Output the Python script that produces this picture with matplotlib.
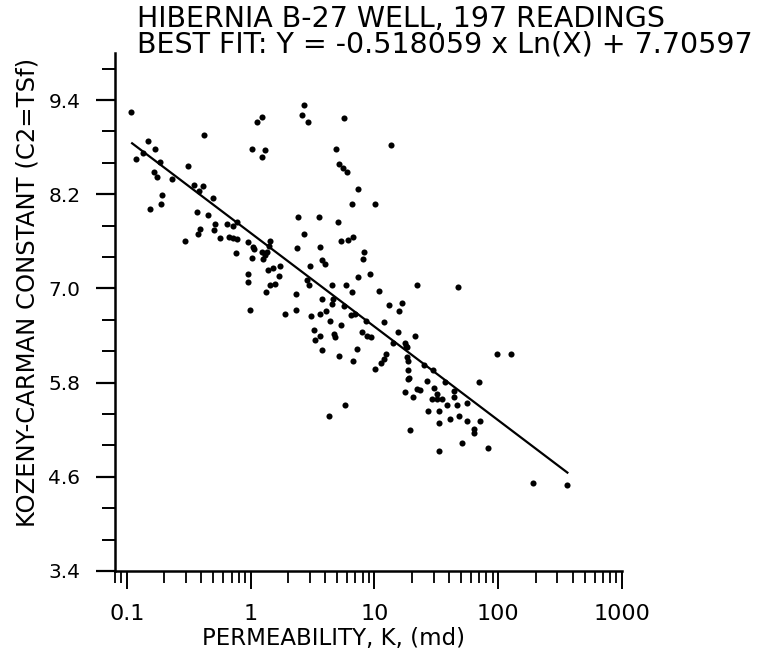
import numpy as np
import matplotlib
matplotlib.use("Agg")
import matplotlib.pyplot as plt
from matplotlib.ticker import FixedLocator, NullFormatter, LogLocator

# ---- data ----
perm_md = [
    0.107, 0.1175, 0.134, 0.1486, 0.1694, 0.185, 0.166, 0.176, 0.191, 0.187,
    0.1535, 0.232, 0.313, 0.419, 0.348, 0.409, 0.384, 0.493, 0.370, 0.452,
    0.294, 0.389, 0.375, 0.514, 0.508, 0.565, 0.640, 0.715, 0.770, 0.668,
    0.723, 0.779, 0.760, 0.946, 1.05, 1.06, 1.03, 1.227, 1.35, 1.264,
    1.43, 1.41, 0.946, 0.946, 1.388, 1.52, 1.726, 1.70, 1.43, 1.57,
    1.33, 0.987, 1.893, 2.32, 2.31, 2.355, 2.40, 1.02, 1.305, 1.234,
    1.118, 1.234, 1.305,
    2.70, 2.61, 2.89, 5.68, 13.55, 4.89, 5.20, 5.61, 5.97, 7.33,
    6.63, 10.17, 3.57, 5.11, 2.71, 3.63, 5.34, 6.15, 6.68, 8.24,
    8.04, 3.75, 3.96, 3.02, 9.21, 7.33, 2.87, 2.94, 4.57, 5.89,
    6.55, 10.9, 22.0, 47.7, 3.75, 4.65, 4.57, 5.71, 3.06, 3.63,
    4.06, 6.43, 6.97, 13.1, 16.6, 15.8, 4.38, 5.34, 8.55, 12.0,
    3.27, 3.63, 3.31, 4.71, 4.80, 7.89, 8.66, 9.33, 15.6, 21.3,
    14.2, 17.7, 18.2, 18.0, 3.77, 7.27, 5.17, 6.75, 12.3, 12.0,
    11.2, 10.1, 18.2, 18.8, 24.9, 29.9, 18.8, 18.5, 19.05, 26.5,
    37.2, 43.5, 30.5, 31.9, 22.0, 23.4, 17.7, 20.6, 29.1, 31.9,
    35.0, 43.5, 5.79, 4.32, 27.3, 33.3, 38.8, 46.3, 33.3, 40.8,
    48.0,
    98.6, 126.5, 70.5, 55.7, 71.8, 63.9, 63.9, 82.4, 50.8, 32.9,
    19.4, 55.7, 192.6, 362.0,
]
kc_const = [
    9.25, 8.645, 8.73, 8.88, 8.78, 8.61, 8.48, 8.42, 8.19, 8.08,
    8.01, 8.40, 8.56, 8.96, 8.32, 8.31, 8.24, 8.15, 7.98, 7.93,
    7.61, 7.76, 7.69, 7.82, 7.74, 7.64, 7.82, 7.80, 7.85, 7.66,
    7.64, 7.63, 7.45, 7.59, 7.53, 7.50, 7.39, 7.47, 7.46, 7.38,
    7.61, 7.54, 7.18, 7.08, 7.23, 7.26, 7.29, 7.16, 7.05, 7.06,
    6.96, 6.73, 6.67, 6.72, 6.93, 7.51, 7.91, 8.78, 8.77, 8.67,
    9.12, 9.19, 7.43,
    9.34, 9.21, 9.12, 9.17, 8.83, 8.78, 8.59, 8.54, 8.49, 8.27,
    8.07, 8.08, 7.91, 7.85, 7.69, 7.53, 7.60, 7.62, 7.65, 7.47,
    7.37, 7.36, 7.31, 7.28, 7.18, 7.15, 7.11, 7.04, 7.05, 7.05,
    6.95, 6.97, 7.04, 7.02, 6.86, 6.87, 6.80, 6.78, 6.65, 6.68,
    6.71, 6.66, 6.68, 6.79, 6.82, 6.71, 6.58, 6.53, 6.58, 6.57,
    6.47, 6.40, 6.34, 6.42, 6.38, 6.44, 6.40, 6.38, 6.44, 6.40,
    6.30, 6.30, 6.25, 6.27, 6.21, 6.23, 6.14, 6.08, 6.16, 6.10,
    6.05, 5.97, 6.13, 6.07, 6.02, 5.96, 5.96, 5.85, 5.86, 5.82,
    5.81, 5.69, 5.73, 5.66, 5.72, 5.71, 5.68, 5.62, 5.59, 5.59,
    5.59, 5.62, 5.51, 5.37, 5.44, 5.44, 5.51, 5.51, 5.28, 5.34,
    5.37,
    6.16, 6.16, 5.81, 5.54, 5.31, 5.21, 5.16, 4.97, 5.03, 4.93,
    5.20, 5.31, 4.52, 4.49,
]
fit_slope = -0.518059
fit_intercept = 7.70597
fit_range = [0.11, 362.0]

x_ticks = [0.1, 1, 10, 100, 1000]
x_tick_labels = ["0.1", "1", "10", "100", "1000"]
y_ticks = [3.4, 4.6, 5.8, 7.0, 8.2, 9.4]
y_tick_labels = ["3.4", "4.6", "5.8", "7.0", "8.2", "9.4"]
y_minor = [3.8, 4.2, 5.0, 5.4, 6.2, 6.6, 7.4, 7.8, 8.6, 9.0, 9.8]

title_1 = "HIBERNIA B-27 WELL, 197 READINGS"
title_2 = "BEST FIT: Y = -0.518059 x Ln(X) + 7.70597"
x_label = "PERMEABILITY, K, (md)"
y_label = "KOZENY-CARMAN CONSTANT (C2=TSf)"

# ---- figure ----
plt.rcParams['font.family'] = ['DejaVu Sans']
W, H = 759, 661
fig = plt.figure(figsize=(W / 100, H / 100), dpi=100)
ax = fig.add_axes([115 / W, 1 - 571 / H, (622 - 115) / W, (571 - 53) / H])

ax.plot(perm_md, kc_const, 'o', color='black', markersize=4.4, markeredgewidth=0,
        clip_on=False, zorder=3)

xf = np.geomspace(fit_range[0], fit_range[1], 100)
ax.plot(xf, fit_slope * np.log(xf) + fit_intercept, color='black', lw=1.6)

ax.set_xscale('log')
ax.set_xlim(0.08, 1000)
ax.set_ylim(3.4, 10.0)

ax.xaxis.set_major_locator(FixedLocator(x_ticks))
ax.set_xticklabels(x_tick_labels)
ax.xaxis.set_minor_locator(LogLocator(base=10, subs=np.arange(2, 10)))
ax.xaxis.set_minor_formatter(NullFormatter())
ax.yaxis.set_major_locator(FixedLocator(y_ticks))
ax.set_yticklabels(y_tick_labels)
ax.yaxis.set_minor_locator(FixedLocator(y_minor))

for s in ['top', 'right']:
    ax.spines[s].set_visible(False)
for s in ['left', 'bottom']:
    ax.spines[s].set_linewidth(1.8)

ax.tick_params(axis='x', which='major', direction='out', length=13, width=1.4,
               labelsize=16, pad=11)
ax.tick_params(axis='x', which='minor', direction='out', length=8.5, width=1.3)
ax.tick_params(axis='y', which='major', direction='out', length=14, width=1.6,
               labelsize=14.5, pad=11)
ax.tick_params(axis='y', which='minor', direction='out', length=9.5, width=1.4)

fig.text(137 / W, 1 - 27 / H, title_1, fontsize=20.5, ha='left', va='baseline')
fig.text(137 / W, 1 - 53 / H, title_2, fontsize=20.5, ha='left', va='baseline')
fig.text(333 / W, 1 - 638 / H, x_label, fontsize=16.5, ha='center', va='center')
fig.text(28 / W, 1 - 292 / H, y_label, fontsize=17.5, ha='center', va='center',
         rotation=90)

fig.savefig("out.png", dpi=100)
